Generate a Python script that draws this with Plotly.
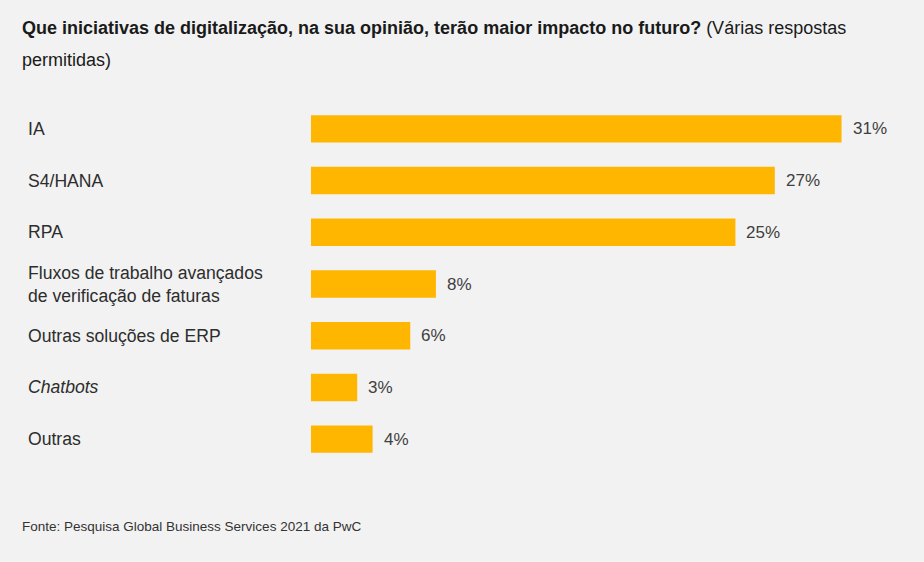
import plotly.graph_objects as go

categories = ["IA", "S4/HANA", "RPA",
              "Fluxos de trabalho avançados<br>de verificação de faturas",
              "Outras soluções de ERP", "<i>Chatbots</i>", "Outras"]
values = [31.0, 27.1, 24.8, 7.3, 5.8, 2.7, 3.6]
value_labels = ["31%", "27%", "25%", "8%", "6%", "3%", "4%"]

title_bold = "Que iniciativas de digitalização, na sua opinião, terão maior impacto no futuro?"
title_rest1 = "(Várias respostas"
title_rest2 = "permitidas)"
source = "Fonte: Pesquisa Global Business Services 2021 da PwC"

W, H = 924, 562
L, R, T, B = 311, 14, 103, 97
PW, PH = W - L - R, H - T - B

def px_x(px):
    return (px - L) / PW

def px_y(py):
    return (H - B - py) / PH

FONT = "Liberation Sans, Arial, sans-serif"
BAR = "#FFB600"
TXT = "#2d2d2d"

fig = go.Figure(go.Bar(
    x=values, y=categories, orientation="h",
    marker=dict(color=BAR, line=dict(width=0)),
    hoverinfo="skip",
))

ann = []
for c, v, lab in zip(categories, values, value_labels):
    ann.append(dict(x=v, y=c, xref="x", yref="y", text=lab, showarrow=False,
                    xanchor="left", yanchor="middle", xshift=9,
                    font=dict(family=FONT, size=17, color="#404040")))
    ann.append(dict(x=px_x(26), y=c, xref="paper", yref="y", text=c, showarrow=False,
                    xanchor="left", yanchor="middle", align="left",
                    font=dict(family=FONT, size=17.6, color=TXT)))

ann.append(dict(x=px_x(20), y=px_y(28), xref="paper", yref="paper",
                text=f"<b>{title_bold}</b> {title_rest1}", showarrow=False,
                xanchor="left", yanchor="middle",
                font=dict(family=FONT, size=18, color="#1a1a1a")))
ann.append(dict(x=px_x(20), y=px_y(60), xref="paper", yref="paper",
                text=title_rest2, showarrow=False,
                xanchor="left", yanchor="middle",
                font=dict(family=FONT, size=18, color="#1a1a1a")))
ann.append(dict(x=px_x(20), y=px_y(526), xref="paper", yref="paper",
                text=source, showarrow=False,
                xanchor="left", yanchor="middle",
                font=dict(family=FONT, size=13.5, color="#333333")))

fig.update_layout(
    width=W, height=H,
    margin=dict(l=L, r=R, t=T, b=B),
    paper_bgcolor="#F2F2F2", plot_bgcolor="#F2F2F2",
    bargap=0.47, showlegend=False,
    xaxis=dict(range=[0, 35], visible=False, fixedrange=True),
    yaxis=dict(autorange="reversed", showticklabels=False, showgrid=False,
               zeroline=False, showline=False, ticks="", fixedrange=True),
    annotations=ann,
    font=dict(family=FONT),
)

fig.write_html("out.html", config={"displayModeBar": False},
               post_script="document.body.style.margin='0';document.body.style.background='#F2F2F2';")
